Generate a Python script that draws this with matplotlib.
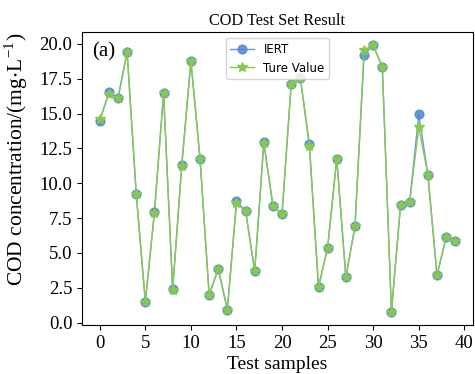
import matplotlib
matplotlib.use("Agg")
import matplotlib.pyplot as plt

# test sample index and concentrations
samples = list(range(40))
iert = [14.46, 16.53, 16.09, 19.41, 9.25, 1.50, 7.95, 16.45, 2.40, 11.34,
        18.78, 11.77, 2.00, 3.87, 0.94, 8.70, 8.02, 3.68, 12.95, 8.38,
        7.81, 17.10, 17.58, 12.78, 2.55, 5.38, 11.77, 3.27, 6.90, 19.19,
        19.89, 18.33, 0.79, 8.43, 8.65, 14.96, 10.62, 3.39, 6.12, 5.89]
true_value = [14.58, 16.40, 16.09, 19.41, 9.25, 1.50, 7.90, 16.45, 2.35, 11.25,
              18.78, 11.77, 2.00, 3.87, 0.94, 8.55, 8.02, 3.68, 12.90, 8.38,
              7.81, 17.10, 17.58, 12.64, 2.55, 5.38, 11.77, 3.27, 6.90, 19.57,
              19.89, 18.33, 0.79, 8.43, 8.65, 14.00, 10.62, 3.39, 6.12, 5.89]

plt.rcParams['font.family'] = ['Liberation Serif', 'DejaVu Serif']
plt.rcParams['mathtext.fontset'] = 'stix'

fig = plt.figure(figsize=(4.75, 3.74), dpi=100)
ax = fig.add_axes([0.1726, 0.131, 0.8232, 0.7834])

#blue circles for the model, green stars for the true values
ax.plot(samples, iert, color='#4f86d6', marker='o', markersize=6.3,
        linewidth=1, alpha=0.85, label='IERT')
ax.plot(samples, true_value, color='#86c94f', marker='*', markersize=7,
        linewidth=1, label='Ture Value')

ax.set_xticks(range(0, 45, 5))
ax.set_yticks([0, 2.5, 5, 7.5, 10, 12.5, 15, 17.5, 20])
ax.set_yticklabels(['0.0', '2.5', '5.0', '7.5', '10.0', '12.5', '15.0', '17.5', '20.0'])
ax.tick_params(labelsize=13.5)

ax.set_title('COD Test Set Result', fontsize=11.7, pad=5)
ax.set_xlabel('Test samples', fontsize=14, labelpad=3)
ax.set_ylabel(r'COD concentration/(mg$\cdot$L$^{\mathregular{-1}}$)', fontsize=15.5)
ax.yaxis.set_label_coords(-0.133, 0.565)
ax.text(0.025, 0.965, '(a)', transform=ax.transAxes, fontsize=15, va='top')

leg = ax.legend(loc='upper center', prop={'family': 'DejaVu Sans', 'size': 8.5})

fig.savefig('out.png', dpi=100)
